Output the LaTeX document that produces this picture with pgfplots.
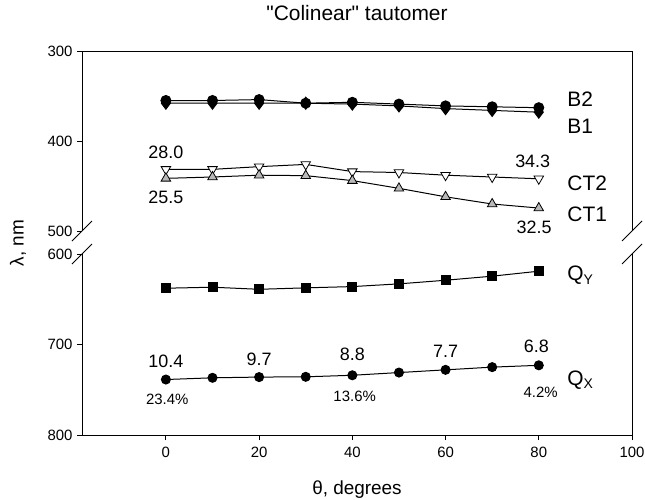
\documentclass[border=0pt]{standalone}
\usepackage{fontspec}
\setmainfont{Liberation Sans}
\usepackage{pgfplots}
\pgfplotsset{compat=1.18}
\newcommand{\fsz}[1]{\fontsize{#1}{#1}\selectfont}
\tikzset{
  lbl/.style={font=\fsz{21}, anchor=west},
  num/.style={font=\fsz{18}},
  pct/.style={font=\fsz{15}},
}
\pgfplotsset{
  brk/.style={
    scale only axis, width=550bp, xmin=-18, xmax=100, y dir=reverse,
    axis line style={draw=none}, tick align=outside, tick pos=left,
    major tick length=5bp, tick style={black, line width=1bp},
    yticklabel style={font=\fsz{15}, xshift=-1bp},
    xticklabel style={font=\fsz{15}, yshift=-4bp},
    clip=false,
    every axis plot/.append style={black, line width=1bp},
  },
}
\begin{document}
\begin{tikzpicture}
\useasboundingbox (-82bp,-65bp) rectangle (563bp,435bp);
% ---------- bottom axis (600-800) ----------
\begin{axis}[brk, at={(0,0)}, anchor=south west, height=181bp,
  ymin=600, ymax=800, ytick={600,700,800}, yticklabels={600,700,800},
  xtick={0,20,40,60,80,100}, xticklabels={0,20,40,60,80,100},
  /pgf/number format/assume math mode=true]
\addplot[mark=square*, mark size=4.5bp] coordinates {
 (0,637.8) (10,636.7) (20,639) (30,637.4) (40,636) (50,633) (60,629) (70,624.5) (80,619)};
\addplot[mark=*, mark size=4.5bp] coordinates {
 (0,738.7) (10,736.8) (20,736) (30,735.7) (40,734) (50,731) (60,728) (70,725) (80,723)};
\draw[line width=1bp] (axis description cs:0,1) -- (axis description cs:0,0) -- (axis description cs:1,0) -- (axis description cs:1,1);
\draw[line width=1bp] ([shift={(-10bp,-10bp)}]axis description cs:0,1) -- ++(20bp,20bp);
\draw[line width=1bp] ([shift={(-10bp,-10bp)}]axis description cs:1,1) -- ++(20bp,20bp);
\node[lbl] at (axis cs:85.4,623) {Q\raisebox{-0.35ex}{\fsz{14}Y}};
\node[lbl] at (axis cs:85.4,739) {Q\raisebox{-0.35ex}{\fsz{14}X}};
\node[num] at (axis cs:0,719) {10.4};
\node[num] at (axis cs:20,716) {9.7};
\node[num] at (axis cs:40,711) {8.8};
\node[num] at (axis cs:60,707.7) {7.7};
\node[num] at (axis cs:79.5,702) {6.8};
\node[pct] at (axis cs:0.3,760.8) {23.4\%};
\node[pct] at (axis cs:40.5,756.8) {13.6\%};
\node[pct] at (axis cs:80.4,752.5) {4.2\%};
\node[font=\fsz{19}] at ([yshift=-55bp]axis description cs:0.5,0) {θ, degrees};
\end{axis}
% ---------- top axis (300-500) ----------
\begin{axis}[brk, at={(0,204bp)}, anchor=south west, height=180bp,
  ymin=300, ymax=500, ytick={300,400,500}, yticklabels={300,400,500}, xtick=\empty,
  /pgf/number format/assume math mode=true]
\addplot[mark=*, mark size=5bp] coordinates {
 (0,355) (10,355) (20,354) (30,358) (40,357) (50,359) (60,361) (70,362) (80,363)};
\addplot[mark=diamond*, mark size=6bp] coordinates {
 (0,358) (10,358) (20,358) (30,358) (40,359) (50,361) (60,364) (70,366) (80,368)};
\addplot[mark=triangle*, mark size=5.5bp, mark options={rotate=180, fill=white, draw=black, line width=0.8bp}] coordinates {
 (0,431.5) (10,431.5) (20,428.5) (30,426) (40,434) (50,435) (60,438) (70,440) (80,442)};
\addplot[mark=triangle*, mark size=5.5bp, mark options={fill=gray!55, draw=black, line width=0.8bp}] coordinates {
 (0,441.5) (10,440) (20,438) (30,438.5) (40,444) (50,452.6) (60,462) (70,470) (80,474.5)};
\draw[line width=1bp] (axis description cs:0,0) -- (axis description cs:0,1) -- (axis description cs:1,1) -- (axis description cs:1,0);
\draw[line width=1bp] ([shift={(-10bp,-10bp)}]axis description cs:0,0) -- ++(20bp,20bp);
\draw[line width=1bp] ([shift={(-10bp,-10bp)}]axis description cs:1,0) -- ++(20bp,20bp);
\node[lbl] at (axis cs:85.4,353) {B2};
\node[lbl] at (axis cs:85.4,384) {B1};
\node[lbl] at (axis cs:85.4,447) {CT2};
\node[lbl] at (axis cs:85.4,481) {CT1};
\node[num] at (axis cs:0,413) {28.0};
\node[num] at (axis cs:0,463) {25.5};
\node[num] at (axis cs:78.7,423) {34.3};
\node[num] at (axis cs:79,495.5) {32.5};
\node[font=\fsz{21}] at ([yshift=38bp]axis description cs:0.5,1) {\textquotedbl Colinear\textquotedbl\ tautomer};
\end{axis}
\node[rotate=90, font=\fsz{19}] at (-64bp,192bp) {λ, nm};
\end{tikzpicture}
\end{document}
